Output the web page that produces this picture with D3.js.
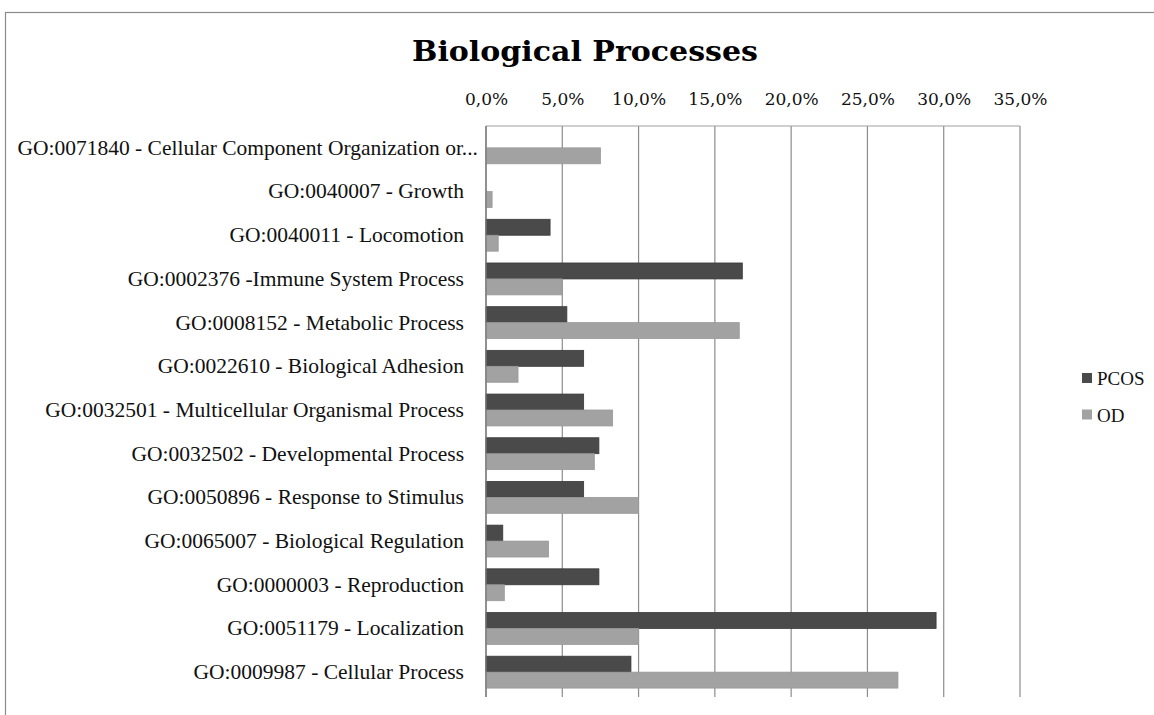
<!DOCTYPE html>
<html>
<head>
<meta charset="utf-8">
<script src="https://cdn.jsdelivr.net/npm/d3@7"></script>
<style>
  body { margin: 0; background: #fff; }
  text { font-family: "Liberation Serif", serif; }
</style>
</head>
<body>
<script>
// categories, top to bottom
var categories = [
  'GO:0071840 - Cellular Component Organization or...',
  'GO:0040007 - Growth',
  'GO:0040011 - Locomotion',
  'GO:0002376 -Immune System Process',
  'GO:0008152 - Metabolic Process',
  'GO:0022610 - Biological Adhesion',
  'GO:0032501 - Multicellular Organismal Process',
  'GO:0032502 - Developmental Process',
  'GO:0050896 - Response to Stimulus',
  'GO:0065007 - Biological Regulation',
  'GO:0000003 - Reproduction',
  'GO:0051179 - Localization',
  'GO:0009987 - Cellular Process'
];
var pcos = [0, 0, 4.2, 16.8, 5.3, 6.4, 6.4, 7.4, 6.4, 1.1, 7.4, 29.5, 9.5];
var od = [7.5, 0.4, 0.8, 5.0, 16.6, 2.1, 8.3, 7.1, 10.0, 4.1, 1.2, 10.0, 27.0];
var seriesNames = ['PCOS', 'OD'];
var ticks = [0, 5, 10, 15, 20, 25, 30, 35];

var screen = { width: 1154, height: 715 };
var margins = { left: 486, top: 126, right: 134, bottom: 21 };
var w = screen.width - margins.left - margins.right;
var h = screen.height - margins.top - margins.bottom;

var colors = { PCOS: '#4a4a4a', OD: '#a2a2a2' };

var svg = d3.select('body').append('svg')
  .attr('width', screen.width)
  .attr('height', screen.height);

// outer chart frame
svg.append('rect')
  .attr('x', 5.5).attr('y', 12.5)
  .attr('width', screen.width + 10).attr('height', 720)
  .attr('fill', 'none')
  .attr('stroke', '#8a8a8a')
  .attr('stroke-width', 1.2);

svg.append('text')
  .attr('x', 585).attr('y', 61)
  .attr('text-anchor', 'middle')
  .attr('font-size', 28)
  .attr('font-weight', 'bold')
  .attr('textLength', 346)
  .attr('lengthAdjust', 'spacingAndGlyphs')
  .style('font-family', '"DejaVu Serif", serif')
  .text('Biological Processes');

var xScale = d3.scaleLinear().domain([0, 35]).range([0, w]);
var yScale = d3.scaleBand().domain(categories).range([0, h]).paddingInner(0.27).paddingOuter(0.135);
var inner = d3.scaleBand().domain(seriesNames).range([0, yScale.bandwidth()]);

var locale = d3.formatLocale({ decimal: ',', thousands: '.', grouping: [3], currency: ['', '€'] });
var pct = locale.format('.1%');

var plot = svg.append('g')
  .attr('transform', 'translate(' + margins.left + ',' + margins.top + ')');

// gridlines
plot.selectAll('line.grid')
  .data(ticks)
  .enter()
  .append('line')
  .classed('grid', true)
  .attr('x1', function(d){ return xScale(d); })
  .attr('x2', function(d){ return xScale(d); })
  .attr('y1', 0)
  .attr('y2', h + 3)
  .attr('stroke', '#8c8c8c')
  .attr('stroke-width', 1.2);

// top border line
plot.append('line')
  .attr('x1', 0).attr('x2', w)
  .attr('y1', 0).attr('y2', 0)
  .attr('stroke', '#a0a0a0')
  .attr('stroke-width', 1.2);

// x axis labels on top
var xAxis = plot.append('g')
  .attr('transform', 'translate(0,-18)')
  .call(d3.axisTop(xScale).tickValues(ticks).tickSize(0).tickFormat(function(d){ return pct(d / 100); }));
xAxis.select('.domain').remove();
xAxis.selectAll('text')
  .attr('font-size', 17)
  .attr('fill', '#111')
  .style('font-family', '"DejaVu Serif", serif');

// bars
var groups = plot.selectAll('g.cat')
  .data(categories)
  .enter()
  .append('g')
  .classed('cat', true)
  .attr('transform', function(d){ return 'translate(0,' + yScale(d) + ')'; });

groups.each(function(cat, i){
  var g = d3.select(this);
  var vals = [pcos[i], od[i]];
  seriesNames.forEach(function(s, j){
    if (vals[j] <= 0) return;
    g.append('rect')
      .attr('x', 0)
      .attr('y', inner(s))
      .attr('width', xScale(vals[j]))
      .attr('height', inner.bandwidth())
      .attr('fill', colors[s])
      .attr('stroke', s === 'PCOS' ? '#3a3a3a' : '#999')
      .attr('stroke-width', 0.8);
  });
});

// left axis line
plot.append('line')
  .attr('x1', 0).attr('x2', 0)
  .attr('y1', 0).attr('y2', h + 3)
  .attr('stroke', '#7a7a7a')
  .attr('stroke-width', 1.3);

// category labels
var yAxis = plot.append('g')
  .attr('transform', 'translate(-19,0)')
  .call(d3.axisLeft(yScale).tickSize(0));
yAxis.select('.domain').remove();
yAxis.selectAll('text')
  .attr('font-size', 21.5)
  .attr('fill', '#111')
  .attr('dx', function(d){ return d.slice(-3) === '...' ? 14 : 0; });

// legend
var legend = svg.append('g')
  .attr('transform', 'translate(1082,378)');
legend.selectAll('g')
  .data(seriesNames)
  .enter()
  .append('g')
  .attr('transform', function(d, i){ return 'translate(0,' + (i * 36.5) + ')'; })
  .each(function(d){
    var cur = d3.select(this);
    cur.append('rect')
      .attr('x', 0).attr('y', -5)
      .attr('width', 10).attr('height', 10)
      .attr('fill', colors[d]);
    cur.append('text')
      .attr('x', 15).attr('y', 7)
      .attr('font-size', 19)
      .attr('fill', '#111')
      .text(d);
  });
</script>
</body>
</html>
